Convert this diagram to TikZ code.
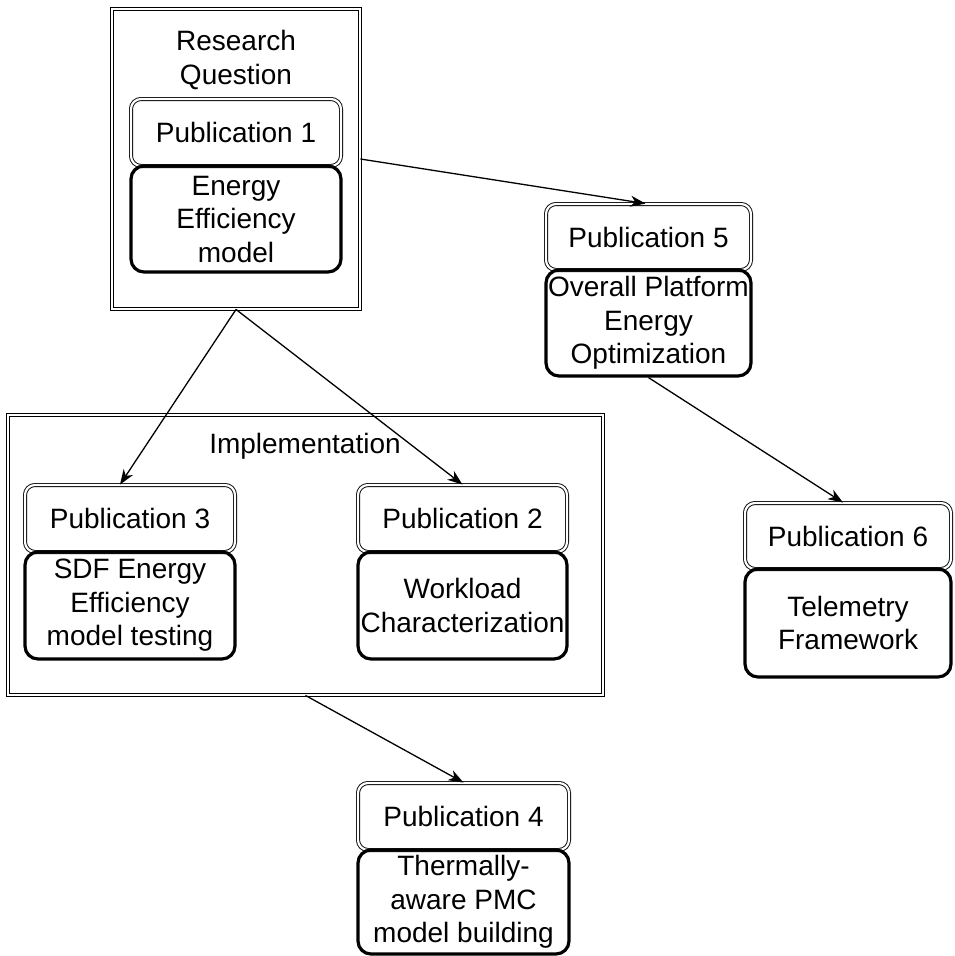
\documentclass[tikz,border=0pt]{standalone}
\usepackage{fontspec}
\setmainfont{Liberation Sans}
\usetikzlibrary{arrows.meta}
\begin{document}
\begin{tikzpicture}[x=1pt,y=-1pt,
  every node/.style={font=\fontsize{28}{33.5}\selectfont, align=center, inner sep=0pt},
  dbl/.style={draw, double, double distance=2.2pt, line width=0.9pt},
  pubbox/.style={dbl, rounded corners=10pt},
  descbox/.style={draw, line width=3.2pt, rounded corners=13pt},
  framebox/.style={dbl},
  conn/.style={line width=1.3pt, -{Stealth[length=15pt,width=11pt,inset=4.5pt]}}]
\useasboundingbox (0,0) rectangle (955,956);

% frames
\node[framebox, minimum width=248pt, minimum height=300pt] (rq) at (236,159) {};
\node (rqt) at (236,60) {Research\\Question};
\node[framebox, minimum width=595pt, minimum height=280pt] (impl) at (305.5,555) {};
\node (implt) at (305,446) {Implementation};

% publication boxes
\node[pubbox, minimum width=210pt, minimum height=67pt] (p1) at (236,132.5) {Publication 1};
\node[pubbox, minimum width=205pt, minimum height=66pt] (p5) at (648.5,237) {Publication 5};
\node[pubbox, minimum width=210pt, minimum height=67pt] (p3) at (130,518.5) {Publication 3};
\node[pubbox, minimum width=209pt, minimum height=67pt] (p2) at (462.5,518.5) {Publication 2};
\node[pubbox, minimum width=206pt, minimum height=66pt] (p6) at (848,536) {Publication 6};
\node[pubbox, minimum width=211pt, minimum height=67pt] (p4) at (463.5,816.5) {Publication 4};

% description boxes
\node[descbox, minimum width=210pt, minimum height=106pt] (e1) at (236,219) {Energy\\Efficiency\\model};
\node[descbox, minimum width=205pt, minimum height=106pt] (e5) at (648.5,323) {Overall Platform\\Energy\\Optimization};
\node[descbox, minimum width=210pt, minimum height=107pt] (e3) at (130,605.5) {SDF Energy\\Efficiency\\model testing};
\node[descbox, minimum width=209pt, minimum height=107pt] (e2) at (462.5,605.5) {Workload\\Characterization};
\node[descbox, minimum width=206pt, minimum height=108pt] (e6) at (848,623) {Telemetry\\Framework};
\node[descbox, minimum width=211pt, minimum height=104pt] (e4) at (463.5,902) {Thermally-\\aware PMC\\model building};

% connectors
\draw[conn] (rq.east) -- ([xshift=-3pt]p5.north);
\draw[conn] (rq.south) -- ([xshift=-10pt]p3.north);
\draw[conn] (rq.south) -- (p2.north);
\draw[conn] (e5.south) -- ([xshift=-5pt]p6.north);
\draw[conn] (impl.south) -- (p4.north);
\end{tikzpicture}
\end{document}
